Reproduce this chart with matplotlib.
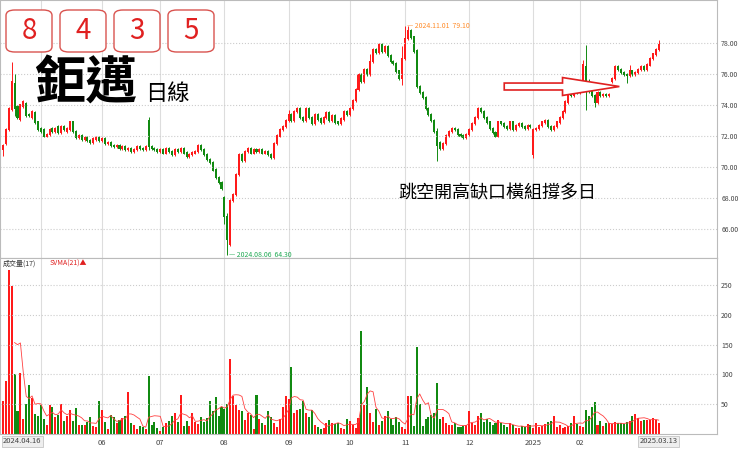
import matplotlib.pyplot as plt
from matplotlib.patches import FancyBboxPatch, FancyArrow
import numpy as np
import pandas as pd

plt.rcParams['font.family'] = ['Noto Sans CJK TC', 'DejaVu Sans']

# daily close / open, 2024.04.16 .. 2025.03.13
closes = [71.4, 72.4, 73.8, 75.5, 73.8, 73.2, 74.0, 74.2, 73.3, 73.3, 73.6, 72.9, 72.4,
          72.3, 72.0, 72.1, 72.4, 72.3, 72.5, 72.2, 72.6, 72.4, 72.5, 72.9, 72.3, 71.9, 72.0, 71.8, 71.9, 71.7, 71.6, 71.8, 71.9, 71.7,
          71.8, 71.5, 71.6, 71.4, 71.3, 71.4, 71.2, 71.3, 71.1, 71.2, 71.0, 71.1, 71.3, 71.2, 71.1, 71.3, 71.3, 71.2, 71.1, 71.0,
          71.1, 70.9, 71.2, 71.0, 70.8, 71.1, 71.0, 71.2, 70.9, 70.7, 70.8, 70.9, 71.0, 71.4, 71.1, 70.8, 70.5, 70.3, 69.8, 69.3, 69.0, 68.6,
          66.8, 65.3, 67.8, 68.2, 69.5, 70.8, 70.4, 71.0, 71.2, 70.9, 71.1, 71.0, 71.1, 70.9, 71.0, 70.8, 70.6, 71.5, 72.0, 72.4, 72.6, 73.0,
          73.4, 73.0, 73.6, 73.8, 73.2, 73.0, 73.8, 73.2, 72.8, 73.4, 73.1, 72.9, 73.2, 73.5, 73.0, 73.3, 72.9, 72.8, 73.1, 73.6, 73.4,
          73.8, 74.3, 75.0, 76.0, 75.5, 76.3, 76.0, 76.8, 77.6, 77.4, 77.9, 77.5, 77.8, 77.2, 76.8, 76.7, 76.2, 75.7, 77.0,
          78.3, 78.8, 78.4, 77.5, 75.2, 74.8, 74.5, 73.8, 73.4, 73.0, 72.3, 71.4, 71.2, 71.5, 72.0, 72.3, 72.5, 72.4, 72.1, 72.0, 71.9, 72.1,
          72.4, 72.8, 73.2, 73.8, 73.6, 73.2, 72.9, 72.5, 72.2, 72.0, 72.9, 72.8, 72.6, 72.5, 72.9, 72.4, 72.7, 72.8, 72.6, 72.5, 72.7, 72.6,
          72.4, 72.5, 72.7, 72.9, 73.0, 72.6, 72.4, 72.6, 72.9, 73.2, 73.6, 74.2, 74.9, 74.6, 75.0, 74.8,
          75.3, 76.6, 75.1, 74.9, 74.6, 74.2, 74.8, 74.6, 74.7, 74.6, 74.7, 75.7, 76.5, 76.3, 76.1, 76.0, 75.9, 76.2,
          76.0, 76.1, 76.3, 76.5, 76.3, 76.6, 77.0, 77.3, 77.6, 77.9]
opens = [71.1, 71.5, 72.4, 73.7, 75.4, 73.9, 73.1, 73.9, 74.1, 73.4, 73.2, 73.5, 72.9,
         72.5, 72.4, 72.0, 72.1, 72.5, 72.3, 72.6, 72.2, 72.6, 72.3, 72.4, 72.9, 72.3, 71.9, 72.0, 71.8, 71.9, 71.7, 71.6, 71.8, 71.9,
         71.7, 71.8, 71.5, 71.6, 71.4, 71.3, 71.4, 71.2, 71.3, 71.1, 71.2, 71.0, 71.1, 71.3, 71.2, 71.1, 73.0, 71.3, 71.2, 71.1,
         71.0, 71.1, 70.9, 71.2, 71.0, 70.8, 71.1, 71.0, 71.2, 70.9, 70.7, 70.8, 70.9, 71.0, 71.4, 71.1, 70.8, 70.5, 70.3, 69.8, 69.3, 69.0,
         68.0, 66.8, 65.0, 67.8, 68.2, 69.5, 70.8, 70.4, 71.0, 71.2, 70.9, 71.1, 71.0, 71.1, 70.9, 71.0, 70.8, 70.6, 71.5, 72.0, 72.4, 72.6,
         73.0, 73.4, 73.0, 73.6, 73.8, 73.2, 73.0, 73.8, 73.2, 72.8, 73.4, 73.1, 72.9, 73.2, 73.5, 73.0, 73.3, 72.9, 72.8, 73.1, 73.6,
         73.4, 73.8, 74.3, 75.0, 76.0, 75.5, 76.3, 76.0, 76.8, 77.6, 77.4, 77.9, 77.5, 77.8, 77.2, 76.8, 76.7, 76.2, 75.7,
         77.0, 78.3, 78.8, 78.4, 77.5, 75.2, 74.8, 74.5, 73.8, 73.4, 73.0, 72.3, 71.6, 71.2, 71.5, 72.0, 72.3, 72.5, 72.4, 72.1, 72.0, 71.9,
         72.1, 72.4, 72.8, 73.2, 73.8, 73.6, 73.2, 72.9, 72.5, 72.2, 72.0, 72.9, 72.8, 72.6, 72.5, 72.9, 72.4, 72.7, 72.8, 72.6, 72.5, 72.7,
         70.8, 72.4, 72.5, 72.7, 72.9, 73.0, 72.6, 72.4, 72.6, 72.9, 73.2, 73.6, 74.2, 74.9, 74.6, 75.0,
         74.8, 75.3, 76.5, 75.1, 74.9, 74.6, 74.2, 74.8, 74.6, 74.7, 74.6, 75.5, 75.7, 76.5, 76.3, 76.1, 76.0, 75.9,
         76.2, 76.0, 76.1, 76.3, 76.5, 76.3, 76.6, 77.0, 77.3, 77.6]
# wick extension beyond the body (up, down)
wick_hi = {3: 1.3, 4: 0.6, 50: 0.2, 77: 0.2, 98: 0.3, 126: 0.5, 137: 0.8, 138: 0.8, 139: 0.3, 149: 0.2,
           182: 0.1, 199: 0.3, 200: 1.4, 201: 0.6, 215: 0.4, 225: 0.3}
wick_lo = {0: 0.4, 4: 0.5, 50: 0.2, 76: 0.5, 77: 1.0, 137: 0.4, 149: 1.0, 182: 0.2, 200: 1.4, 203: 0.3, 214: 0.5}

volumes = [55, 88, 275, 248, 100, 38, 102, 25, 50, 82, 60, 33, 30,
           48, 25, 15, 48, 45, 28, 32, 50, 22, 30, 40, 22, 44, 15, 15, 15, 20, 28, 14, 12, 55,
           40, 20, 8, 32, 28, 18, 24, 26, 30, 70, 18, 15, 8, 14, 12, 8, 98, 15, 20, 10,
           5, 12, 18, 22, 30, 36, 20, 66, 14, 22, 14, 36, 20, 16, 28, 20, 26, 56, 38, 62, 30, 45,
           42, 50, 125, 64, 48, 40, 38, 24, 35, 32, 8, 65, 25, 18, 15, 38, 28, 18, 12, 25, 45, 64, 58,
           112, 35, 40, 42, 55, 35, 28, 40, 15, 12, 8, 10, 18, 24, 18, 16, 18, 10, 8, 25,
           22, 15, 10, 27, 172, 48, 78, 36, 20, 42, 15, 22, 30, 38, 25, 15, 28, 20, 12,
           8, 64, 63, 14, 145, 50, 14, 25, 28, 32, 35, 85, 25, 28, 18, 15, 15, 18, 12, 12, 14, 15,
           38, 18, 15, 30, 35, 20, 25, 20, 15, 18, 24, 18, 15, 12, 18, 15, 10, 10, 14, 12, 16, 15,
           10, 18, 12, 14, 16, 20, 22, 30, 12, 15, 10, 12, 14, 18, 30, 16,
           14, 12, 40, 30, 45, 54, 15, 22, 14, 18, 18, 16, 20, 18, 18, 16, 20, 22,
           30, 34, 26, 22, 24, 24, 24, 26, 24, 18]

month_pos = [13, 34, 54, 76, 98, 119, 138, 160, 182, 198]
month_lab = ['5', '06', '07', '08', '09', '10', '11', '12', '2025', '02']

RED, GREEN = '#ff1a1a', '#118a11'
o = np.array(opens)
c = np.array(closes)
v = np.array(volumes)
x = np.arange(len(c))
hi = np.maximum(o, c) + np.array([wick_hi.get(i, 0.1) for i in x])
lo = np.minimum(o, c) - np.array([wick_lo.get(i, 0.1) for i in x])
hi[138] = 79.1
lo[77] = 64.3
col = [RED if cc >= oo else GREEN for oo, cc in zip(o, c)]

fig = plt.figure(figsize=(7.4, 4.49), dpi=100)
W = 717 / 740
ax = fig.add_axes([0.0, 1 - 258 / 449, W, 258 / 449])
axv = fig.add_axes([0.0, 1 - 434 / 449, W, 176 / 449])

for a in (ax, axv):
    a.set_xlim(-1, 245)
    a.yaxis.tick_right()
    a.tick_params(axis='y', labelsize=5, length=0, colors='#444444', pad=3)
    a.tick_params(axis='x', length=0)
    a.grid(axis='y', color='#cccccc', linestyle=':', linewidth=0.8)
    for t in month_pos:
        a.axvline(t, color='#dddddd', linewidth=0.8, zorder=0)
    for s in a.spines.values():
        s.set_color('#bbbbbb')
        s.set_linewidth(0.8)

ax.vlines(x, lo, hi, colors=col, linewidth=0.7)
ax.bar(x, np.abs(c - o) + 0.08, bottom=np.minimum(o, c) - 0.04, width=0.7, color=col)
ax.set_ylim(64.1, 80.8)
ax.set_yticks(np.arange(66, 79, 2))
ax.set_yticklabels([f'{t:.2f}' for t in np.arange(66, 79, 2)])
ax.set_xticks([])

ax.text(138.5, 79.1, '— 2024.11.01  79.10', color='#ff8c2a', fontsize=5, va='center')
ax.text(77.5, 64.3, '— 2024.08.06  64.30', color='#22aa55', fontsize=5, va='center')

# title boxes
for i, d in enumerate('8435'):
    fx = 6 + i * 54
    fig.patches.append(FancyBboxPatch((fx / 740, 1 - 52 / 449), 46 / 740, 42 / 449,
                                      boxstyle='round,pad=0,rounding_size=0.012', transform=fig.transFigure,
                                      fc='white', ec='#d9534f', lw=1))
    fig.text((fx + 23) / 740, 1 - 31 / 449, d, color='#e02020', fontsize=20, ha='center', va='center')
fig.text(34 / 740, 1 - 84 / 449, '鉅邁', fontsize=37, fontweight='bold', va='center')
fig.text(145 / 740, 1 - 94 / 449, '日線', fontsize=16, va='center')
fig.text(398 / 740, 1 - 193 / 449, '跳空開高缺口橫組撐多日', fontsize=13, va='center')

# hollow arrow
arr = FancyArrow(172, 75.2, 39.5, 0, width=0.45, head_width=1.16, head_length=19.5,
                 length_includes_head=True, fc='white', ec='#e02020', lw=1.2, zorder=5)
ax.add_patch(arr)

axv.bar(x, v, width=0.7, color=col)
ma = pd.Series(v).rolling(5).mean()
axv.plot(x, ma, color='#ff4040', linewidth=0.6)
axv.set_ylim(0, 295)
axv.set_yticks([50, 100, 150, 200, 250])
axv.set_xticks(month_pos)
axv.set_xticklabels(month_lab, fontsize=5.5, color='#444444')
axv.text(0, -12, '2024.04.16', fontsize=5.5, color='#444444', va='center', clip_on=False,
         bbox=dict(fc='#eeeeee', ec='#bbbbbb', lw=0.5, pad=1))
axv.text(225, -12, '2025.03.13', fontsize=5.5, color='#444444', va='center', ha='center', clip_on=False,
         bbox=dict(fc='#eeeeee', ec='#bbbbbb', lw=0.5, pad=1))
axv.text(0, 285, '成交量(17)', fontsize=5, color='#333333', va='center')
axv.text(16, 285, 'SVMA(21)▲', fontsize=5, color='#e02020', va='center')

fig.savefig('out.png', dpi=100)
